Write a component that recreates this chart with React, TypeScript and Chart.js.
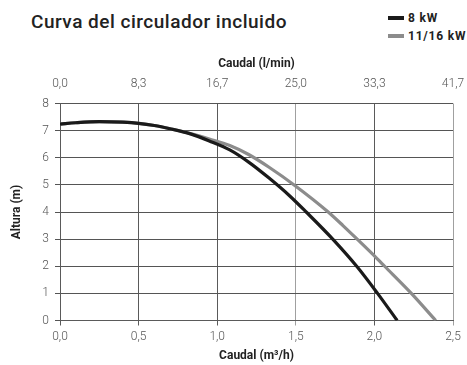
import React, { useEffect, useRef } from 'react';
import { Chart, registerables } from 'chart.js';
Chart.register(...registerables);

const titleText = 'Curva del circulador incluido';
const seriesNames = ['8 kW', '11/16 kW'];
const seriesColors = ['#1a1a1a', '#8c8c8c'];

const flow8kW = [0, 0.1, 0.25, 0.4, 0.5, 0.6, 0.7, 0.83, 0.95, 1.08, 1.2, 1.33, 1.46, 1.566, 1.735, 1.89, 2.02, 2.145];
const head8kW = [7.24, 7.29, 7.33, 7.31, 7.27, 7.19, 7.07, 6.88, 6.62, 6.29, 5.84, 5.25, 4.6, 4.0, 3.0, 1.98, 1.0, 0];

const flow1116kW = [0, 0.1, 0.25, 0.4, 0.5, 0.6, 0.7, 0.83, 0.95, 1.08, 1.2, 1.33, 1.5, 1.706, 1.8, 1.89, 2.0, 2.065, 2.235, 2.39];
const head1116kW = [7.24, 7.29, 7.33, 7.31, 7.27, 7.19, 7.07, 6.89, 6.69, 6.45, 6.12, 5.65, 4.95, 4.0, 3.5, 3.0, 2.38, 2.0, 1.0, 0];

const bottomTickLabels = ['0,0', '0,5', '1,0', '1,5', '2,0', '2,5'];
const topTickLabels = ['0,0', '8,3', '16,7', '25,0', '33,3', '41,7'];
const yTickLabels = ['0', '1', '2', '3', '4', '5', '6', '7', '8'];

const bottomTitle = 'Caudal (m³/h)';
const topTitle = 'Caudal (l/min)';
const yTitle = 'Altura (m)';

const FONT = 'Roboto, "DejaVu Sans", sans-serif';

export default function App() {
  const canvasRef = useRef<HTMLCanvasElement | null>(null);

  useEffect(() => {
    if (!canvasRef.current) return;
    const toPoints = (xs: number[], ys: number[]) => xs.map((x, i) => ({ x, y: ys[i] }));
    const tickFont = { family: FONT, size: 12, weight: 300 as any };
    const titleFont = { family: FONT, size: 12, weight: 'bold' as any };
    const xGridColor = (ctx: any) => {
      const v = ctx.tick ? ctx.tick.value : 0;
      return Math.abs(v - 1.5) < 1e-6 || Math.abs(v - 2.5) < 1e-6 ? '#a0a0a0' : '#5a5a5a';
    };
    const chart = new Chart(canvasRef.current, {
      type: 'line',
      data: {
        datasets: [
          {
            label: seriesNames[0],
            data: toPoints(flow8kW, head8kW),
            borderColor: seriesColors[0],
            backgroundColor: seriesColors[0],
            borderWidth: 3.2,
            pointRadius: 0,
            cubicInterpolationMode: 'monotone',
            fill: false,
          },
          {
            label: seriesNames[1],
            data: toPoints(flow1116kW, head1116kW),
            borderColor: seriesColors[1],
            backgroundColor: seriesColors[1],
            borderWidth: 3.2,
            pointRadius: 0,
            cubicInterpolationMode: 'monotone',
            fill: false,
          },
        ],
      },
      options: {
        animation: false,
        responsive: true,
        maintainAspectRatio: false,
        layout: { padding: { left: 0, right: 14, top: 0, bottom: 0 } },
        plugins: {
          legend: { display: false },
          tooltip: { enabled: false },
          title: { display: false },
        },
        scales: {
          x: {
            type: 'linear',
            position: 'bottom',
            min: 0,
            max: 2.5,
            afterBuildTicks: (s: any) => {
              s.ticks = bottomTickLabels.map((_, i) => ({ value: i * 0.5 }));
            },
            ticks: {
              callback: (_v: any, i: number) => bottomTickLabels[i],
              font: tickFont,
              color: '#555',
              padding: 3.8,
              maxRotation: 0,
            },
            grid: { color: xGridColor, lineWidth: 1, tickLength: 5, drawTicks: true },
            border: { display: true, color: '#5a5a5a' },
            title: { display: true, text: bottomTitle, font: titleFont, color: '#222', padding: { top: 0, bottom: 1.8 } },
            afterFit: (s: any) => { s.height = 44.5; s.paddingLeft = 0; s.paddingRight = 0; },
          },
          x2: {
            type: 'linear',
            position: 'top',
            min: 0,
            max: 2.5,
            afterBuildTicks: (s: any) => {
              s.ticks = topTickLabels.map((_, i) => ({ value: i * 0.5 }));
            },
            ticks: {
              callback: (_v: any, i: number) => topTickLabels[i],
              font: tickFont,
              color: '#555',
              padding: 12.3,
              maxRotation: 0,
            },
            grid: { display: true, drawOnChartArea: false, drawTicks: false },
            border: { display: false },
            title: { display: true, text: topTitle, font: titleFont, color: '#222', padding: { top: 56.8, bottom: 0 } },
            afterFit: (s: any) => { s.height = 103.5; s.paddingLeft = 0; s.paddingRight = 0; },
          },
          y: {
            type: 'linear',
            position: 'left',
            min: 0,
            max: 8,
            afterBuildTicks: (s: any) => {
              s.ticks = yTickLabels.map((_, i) => ({ value: i }));
            },
            ticks: {
              callback: (_v: any, i: number) => yTickLabels[i],
              font: tickFont,
              color: '#555',
              padding: 6,
            },
            grid: { color: '#555', lineWidth: 1, tickLength: 5, drawTicks: true },
            border: { display: true, color: '#5a5a5a' },
            title: { display: true, text: yTitle, font: titleFont, color: '#222', padding: { top: 9.8, bottom: 0 } },
            afterFit: (s: any) => { s.width = 60; },
          },
        },
      } as any,
    });
    return () => chart.destroy();
  }, []);

  const legendItem = (i: number, top: number) => (
    <div style={{ position: 'absolute', left: 388, top, height: 14, display: 'flex', alignItems: 'center' }}>
      <div style={{ width: 16, height: 3.5, background: seriesColors[i], marginRight: 4 }} />
      <span style={{ fontFamily: FONT, fontWeight: 700, fontSize: 12, letterSpacing: 0.8, color: '#222', whiteSpace: 'nowrap' }}>
        {seriesNames[i]}
      </span>
    </div>
  );

  return (
    <div style={{ position: 'fixed', left: 0, top: 0, width: 467, height: 365, background: '#fff' }}>
      <div
        style={{
          position: 'absolute',
          left: 31,
          top: 10,
          fontFamily: FONT,
          fontWeight: 500,
          fontSize: 19,
          letterSpacing: 0.5,
          color: '#222',
          whiteSpace: 'nowrap',
          lineHeight: '24px',
        }}
      >
        {titleText}
      </div>
      {legendItem(0, 11)}
      {legendItem(1, 29)}
      <div style={{ position: 'absolute', left: 0, top: 0, width: 467, height: 365 }}>
        <canvas ref={canvasRef} />
      </div>
    </div>
  );
}
